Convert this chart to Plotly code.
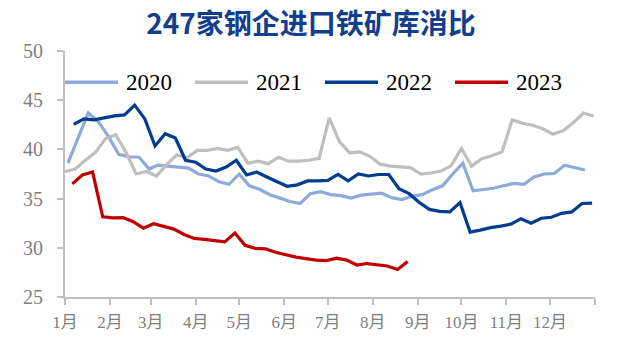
import pandas as pd
import plotly.graph_objects as go

# ---- data -------------------------------------------------------------
chart_title = "247家钢企进口铁矿库消比"
series_names = ["2020", "2021", "2022", "2023"]
series_colors = ["#8EAADB", "#BFBFBF", "#003D8F", "#C00000"]
# first weekly observation (Friday) of each year
first_dates = ["2020-01-03", "2021-01-01", "2022-01-07", "2023-01-06"]

v2020 = [38.6, 41.1, 43.7, 42.8, 41.3, 39.5, 39.25, 39.2, 38.0, 38.4,
         38.3, 38.25, 38.1, 37.5, 37.3, 36.7, 36.45, 37.5, 36.3, 35.95,
         35.4, 35.05, 34.7, 34.5, 35.5, 35.7, 35.4, 35.3, 35.05, 35.35,
         35.45, 35.55, 35.1, 34.9, 35.25, 35.4, 35.9, 36.3, 37.5, 38.6,
         35.8, 35.9, 36.05, 36.3, 36.55, 36.45, 37.2, 37.5, 37.55, 38.4,
         38.15, 37.9]
v2021 = [37.75, 38.0, 38.9, 39.7, 41.1, 41.5, 39.7, 37.5, 37.75, 37.3,
         38.45, 39.45, 39.15, 39.9, 39.9, 40.1, 39.9, 40.2, 38.6, 38.8,
         38.55, 39.2, 38.8, 38.8, 38.9, 39.1, 43.2, 40.8, 39.65, 39.75,
         39.3, 38.5, 38.3, 38.2, 38.15, 37.5, 37.6, 37.8, 38.35, 40.1,
         38.3, 39.05, 39.35, 39.75, 43.0, 42.65, 42.45, 42.1, 41.55, 41.9,
         42.7, 43.7, 43.4]
v2022 = [42.55, 43.1, 43.0, 43.2, 43.4, 43.5, 44.5, 43.1, 40.35, 41.6,
         41.15, 38.9, 38.7, 38.0, 37.8, 38.2, 38.9, 37.4, 37.7, 37.2,
         36.7, 36.25, 36.4, 36.8, 36.8, 36.85, 37.45, 36.8, 37.5, 37.3,
         37.45, 37.45, 36.0, 35.5, 34.6, 33.9, 33.7, 33.65, 34.6, 31.6,
         31.8, 32.05, 32.2, 32.4, 32.95, 32.5, 33.0, 33.1, 33.5, 33.65,
         34.5, 34.55]
v2023 = [36.5, 37.4, 37.7, 33.15, 33.05, 33.07, 32.65, 32.0, 32.45, 32.2,
         31.9, 31.35, 30.95, 30.85, 30.75, 30.6, 31.5, 30.25, 29.95, 29.9,
         29.55, 29.3, 29.05, 28.9, 28.75, 28.7, 28.95, 28.75, 28.25, 28.4,
         28.25, 28.15, 27.8, 28.6]
series_values = [v2020, v2021, v2022, v2023]

month_labels = ["1月", "2月", "3月", "4月", "5月", "6月",
                "7月", "8月", "9月", "10月", "11月", "12月"]
y_range = [25, 50]
y_step = 5

# ---- figure -----------------------------------------------------------
REF_YEAR = 2021  # every season is overlaid on one calendar year
AXIS_GREY = "#BFBFBF"
LABEL_GREY = "#7F7F7F"
SERIF = "Liberation Serif, Times New Roman, Noto Sans CJK SC, serif"

fig = go.Figure()
for name, color, start, vals in zip(series_names, series_colors,
                                    first_dates, series_values):
    dates = pd.date_range(start, periods=len(vals), freq="7D")
    x = [d.replace(year=REF_YEAR) for d in dates]
    fig.add_trace(go.Scatter(
        x=x, y=vals, name=name, mode="lines",
        line=dict(color=color, width=3.2),
        showlegend=False,
    ))

month_starts = pd.date_range(f"{REF_YEAR}-01-01", f"{REF_YEAR + 1}-01-01",
                             freq="MS")

# legend row drawn across the top of the plot area
legend_y = 0.873
item_step = 130 / 530
sample_len = 53 / 530
text_gap = 6 / 530
for i, (name, color) in enumerate(zip(series_names, series_colors)):
    x0 = i * item_step
    fig.add_shape(type="line", xref="paper", yref="paper",
                  x0=x0, x1=x0 + sample_len, y0=legend_y, y1=legend_y,
                  line=dict(color=color, width=3.5))
    fig.add_annotation(xref="paper", yref="paper",
                       x=x0 + sample_len + text_gap, y=legend_y,
                       xanchor="left", yanchor="middle", showarrow=False,
                       text=name, font=dict(family=SERIF, size=23,
                                            color="#000000"))

fig.update_layout(
    width=617, height=339,
    margin=dict(l=65, r=22, t=51, b=42),
    paper_bgcolor="white", plot_bgcolor="white",
    title=dict(text=chart_title, x=0.504, xanchor="center",
               y=0.928, yanchor="middle",
               font=dict(family="Noto Sans CJK SC", size=28,
                         color="#133E8D", weight="bold")),
    xaxis=dict(
        type="date", automargin=False,
        range=[month_starts[0], month_starts[-1]],
        tickvals=list(month_starts),
        ticktext=month_labels + [""],
        showgrid=False, zeroline=False,
        showline=True, linecolor=AXIS_GREY, linewidth=2,
        ticks="outside", ticklen=6, tickwidth=1.5, tickcolor=AXIS_GREY,
        tickfont=dict(family=SERIF, size=17, color=LABEL_GREY),
        ticklabelstandoff=3,
    ),
    yaxis=dict(
        automargin=False,
        range=y_range, tick0=y_range[0], dtick=y_step,
        showgrid=False, zeroline=False,
        showline=True, linecolor=AXIS_GREY, linewidth=2,
        ticks="outside", ticklen=6, tickwidth=1.5, tickcolor=AXIS_GREY,
        tickfont=dict(family=SERIF, size=20, color=LABEL_GREY),
        ticklabelstandoff=10,
    ),
)

fig.write_html("out.html")
